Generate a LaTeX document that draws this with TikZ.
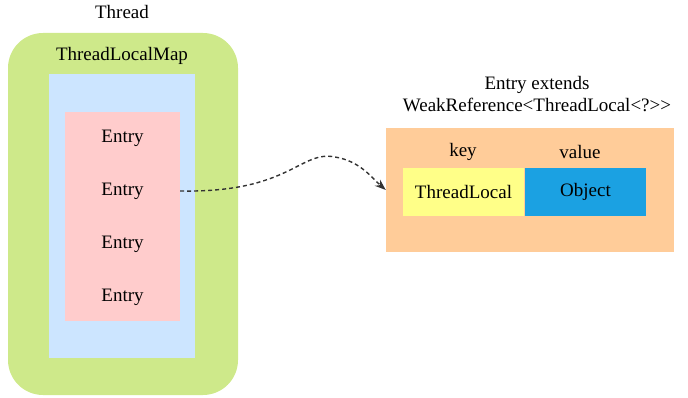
\documentclass[tikz,border=0pt]{standalone}
\usepackage{fontspec}
\setmainfont{Liberation Serif}
\usepackage{tikz}
\usetikzlibrary{
    positioning,
    arrows.meta
}
\definecolor{threadgreen}{HTML}{CEE98A}
\definecolor{mapblue}{HTML}{CCE5FF}
\definecolor{entrypink}{HTML}{FFCCCC}
\definecolor{reforange}{HTML}{FFCC99}
\definecolor{keyyellow}{HTML}{FFFF88}
\definecolor{valueblue}{HTML}{1BA1E2}
\tikzset{
    >=Stealth,
    area/.style={
        inner sep=0pt,
        draw=none
    },
    txt/.style={
        font=\fontsize{19}{22}\selectfont,
        inner sep=0pt
    }
}

\begin{document}
\begin{tikzpicture}[
    x=1pt,
    y=-1pt
]
    \useasboundingbox (0,0) rectangle (688,398);

    % Thread
    \node[area, fill=threadgreen, rounded corners=35pt,
          minimum width=230pt, minimum height=362pt] (thread) at (123,214) {};
    \node[txt] (threadlbl) at (122,12) {Thread};

    % ThreadLocalMap
    \node[area, fill=mapblue,
          minimum width=146pt, minimum height=284pt] (map) at (122,216) {};
    \node[txt] (maplbl) at (122,56) {ThreadLocalMap};

    % Entries
    \node[area, fill=entrypink,
          minimum width=115pt, minimum height=209pt] (table) at (122.5,216.5) {};
    \foreach \y/\n in {138/1, 191/2, 244/3, 297/4}
        \node[txt, minimum width=115pt] (e\n) at (122.5,\y) {Entry};

    % Entry extends WeakReference
    \node[txt, align=center] (entrylbl) at (537,94)
        {Entry extends\\WeakReference<ThreadLocal<?>{}>};
    \node[area, fill=reforange,
          minimum width=288pt, minimum height=124pt] (entry) at (530,190) {};
    \node[txt] (keylbl)   at (463,152) {key};
    \node[txt] (valuelbl) at (580,152) {value};
    \node[area, fill=keyyellow, txt,
          minimum width=121pt, minimum height=48pt] (key) at (463.5,192) {ThreadLocal};
    \node[area, fill=valueblue, txt,
          minimum width=121pt, minimum height=48pt] (value) at (585.5,192) {Object};

    % Referencia
    \draw[->, line width=1.4pt, color=black!80,
          dash pattern=on 4pt off 3pt,
          >={Stealth[length=11pt, width=8pt]}]
        (e2.east) .. controls (290,193) and (300,150) .. (335,157)
                  .. controls (360,161) and (372,178) .. (entry.west);

\end{tikzpicture}
\end{document}
